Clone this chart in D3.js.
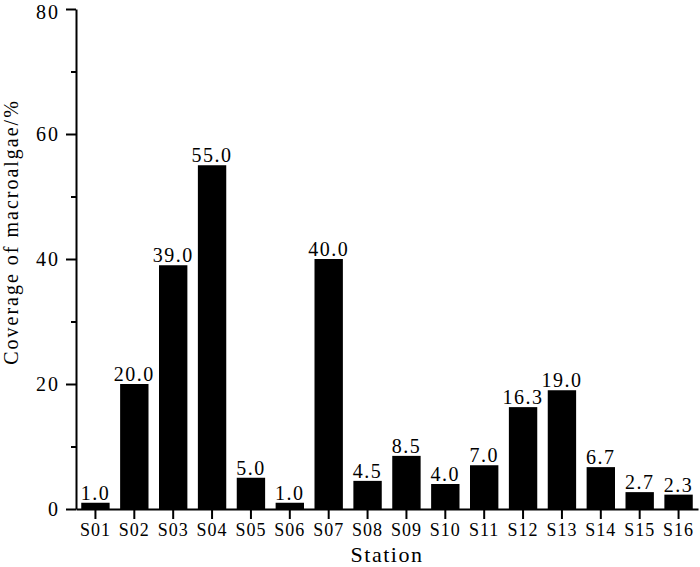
<!DOCTYPE html>
<html>
<head>
<meta charset="utf-8">
<script src="https://cdn.jsdelivr.net/npm/d3@7"></script>
<style>
  body { margin: 0; background: #fff; }
  svg text { font-family: "Liberation Serif", "Times New Roman", serif; fill: #000; }
</style>
</head>
<body>
<svg id="chart" width="700" height="567"></svg>
<script>
// data
const stations = ["S01", "S02", "S03", "S04", "S05", "S06", "S07", "S08",
                  "S09", "S10", "S11", "S12", "S13", "S14", "S15", "S16"];
const coverage = [1.0, 20.0, 39.0, 55.0, 5.0, 1.0, 40.0, 4.5,
                  8.5, 4.0, 7.0, 16.3, 19.0, 6.7, 2.7, 2.3];
const yMajor = [0, 20, 40, 60, 80];
const yMinor = [10, 30, 50, 70];

const svg = d3.select("#chart");

// plot box
const plotLeft = 76, plotRight = 698, plotTop = 9, plotBottom = 509;

const x = d3.scaleBand()
    .domain(stations)
    .range([plotLeft, plotRight])
    .paddingInner(0.27)
    .paddingOuter(0.135);

const y = d3.scaleLinear()
    .domain([0, 80])
    .range([plotBottom, plotTop]);

// bars
svg.append("g")
    .selectAll("rect")
    .data(stations)
    .join("rect")
    .attr("x", d => x(d))
    .attr("width", x.bandwidth())
    .attr("y", (d, i) => y(coverage[i]))
    .attr("height", (d, i) => y(0) - y(coverage[i]))
    .attr("fill", "#000");

// value labels on top of bars
svg.append("g")
    .selectAll("text")
    .data(stations)
    .join("text")
    .attr("x", d => x(d) + x.bandwidth() / 2)
    .attr("y", (d, i) => y(coverage[i]) - 3)
    .attr("text-anchor", "middle")
    .style("font-size", "20px")
    .style("letter-spacing", "1.5px")
    .text((d, i) => coverage[i].toFixed(1));

// y axis, major ticks with labels
const yAxis = svg.append("g")
    .attr("transform", `translate(${plotLeft},0)`)
    .call(d3.axisLeft(y).tickValues(yMajor).tickSize(10).tickSizeOuter(0).tickPadding(6));

// minor ticks, no labels
svg.append("g")
    .attr("transform", `translate(${plotLeft},0)`)
    .call(d3.axisLeft(y).tickValues(yMinor).tickSize(5).tickSizeOuter(0).tickFormat(""))
    .select(".domain").remove();

yAxis.selectAll("text")
    .style("font-size", "20px")
    .style("letter-spacing", "2px");

// keep the top label inside the page
yAxis.selectAll(".tick")
    .filter(d => d === 80)
    .select("text")
    .attr("y", 3.5);

// x axis
const xAxis = svg.append("g")
    .attr("transform", `translate(0,${plotBottom})`)
    .call(d3.axisBottom(x).tickSize(10).tickSizeOuter(0).tickPadding(4));

xAxis.selectAll("text")
    .style("font-size", "18px")
    .style("letter-spacing", "1px");

svg.selectAll(".domain, .tick line")
    .attr("stroke", "#000")
    .attr("stroke-width", 2);

// axis titles
svg.append("text")
    .attr("x", (plotLeft + plotRight) / 2)
    .attr("y", 562)
    .attr("text-anchor", "middle")
    .style("font-size", "22px")
    .style("letter-spacing", "1.5px")
    .text("Station");

svg.append("text")
    .attr("transform", "rotate(-90)")
    .attr("x", -232)
    .attr("y", 18)
    .attr("text-anchor", "middle")
    .style("font-size", "20px")
    .style("letter-spacing", "2px")
    .text("Coverage of macroalgae/%");
</script>
</body>
</html>
